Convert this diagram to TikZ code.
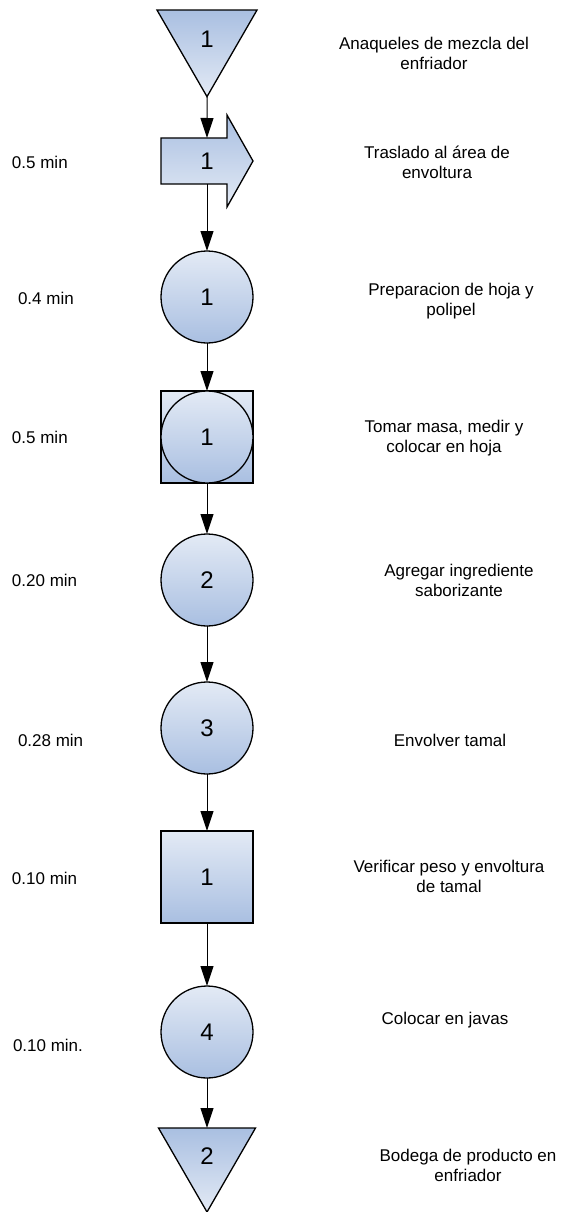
\documentclass[tikz,border=0pt]{standalone}
\usepackage{fontspec}
\setmainfont{Liberation Sans}
\usetikzlibrary{shapes.geometric,arrows.meta,backgrounds}
\definecolor{shadelight}{HTML}{E3EAF5}
\definecolor{shadedark}{HTML}{A9BFE1}

\begin{document}
\begin{tikzpicture}[x=1pt,y=-1pt,
  every node/.style={font=\fontsize{17}{20}\selectfont, inner sep=0pt, outer sep=0pt},
  num/.style={font=\fontsize{24}{28}\selectfont},
  shapeline/.style={draw=black, line width=1.3pt},
  lightup/.style={top color=shadelight, bottom color=shadedark},
  darkup/.style={top color=shadedark, bottom color=shadelight},
  storage/.style={shapeline, darkup, regular polygon, regular polygon sides=3,
    shape border rotate=180, num},
  operation/.style={shapeline, lightup, circle, minimum size=92pt, num},
  inspection/.style={shapeline, lightup, rectangle, minimum size=92pt, num},
  transport/.style={minimum width=92pt, minimum height=46pt, num},
  flow/.style={line width=1pt, -{Triangle[width=13pt,length=20pt]}},
  desc/.style={align=center},
  timelabel/.style={anchor=west},
]
\useasboundingbox (0,0) rectangle (560,1212);

% process symbols
\node[storage, minimum size=115.5pt] (s1) at (207,38.9) {1};
\node[transport] (t1) at (207,161) {1};
\begin{scope}[on background layer]
  \draw[shapeline, darkup]
    (t1.north west) -- ([xshift=-26pt]t1.north east)
    -- ([xshift=-26pt,yshift=23pt]t1.north east)
    -- (t1.east)
    -- ([xshift=-26pt,yshift=-23pt]t1.south east)
    -- ([xshift=-26pt]t1.south east)
    -- (t1.south west) -- cycle;
\end{scope}
\node[operation] (o1) at (207,297) {1};
\node[inspection] (q1) at (207,437) {};
\node[operation] (o1b) at (207,437) {1};
\node[operation] (o2) at (207,580) {2};
\node[operation] (o3) at (207,728) {3};
\node[inspection] (q2) at (207,877) {1};
\node[operation] (o4) at (207,1032) {4};
\node[storage, minimum size=112pt] (s2) at (207,1156) {2};

% flow lines
\draw[flow] (s1.south) -- (t1.north);
\draw[flow] (t1.south) -- (o1.north);
\draw[flow] (o1.south) -- (q1.north);
\draw[flow] (q1.south) -- (o2.north);
\draw[flow] (o2.south) -- (o3.north);
\draw[flow] (o3.south) -- (q2.north);
\draw[flow] (q2.south) -- (o4.north);
\draw[flow] (o4.south) -- (s2.north);

% times
\node[timelabel] (m1) at (12,162) {0.5 min};
\node[timelabel] (m2) at (18,298) {0.4 min};
\node[timelabel] (m3) at (12,437) {0.5 min};
\node[timelabel] (m4) at (12,580) {0.20 min};
\node[timelabel] (m5) at (18,740) {0.28 min};
\node[timelabel] (m6) at (12,878) {0.10 min};
\node[timelabel] (m7) at (13,1045) {0.10 min.};

% descriptions
\node[desc] (d1) at (434,53) {Anaqueles de mezcla del\\enfriador};
\node[desc] (d2) at (437,162) {Traslado al área de\\envoltura};
\node[desc] (d3) at (451,301) {Preparacion de hoja y\\polipel};
\node[desc] (d4) at (444,438) {Tomar masa, medir y\\colocar en hoja};
\node[desc] (d5) at (459,580) {Agregar ingrediente\\saborizante};
\node[desc] (d6) at (450,740) {Envolver tamal};
\node[desc] (d7) at (449,876) {Verificar peso y envoltura\\de tamal};
\node[desc] (d8) at (445,1020) {Colocar en javas};
\node[desc] (d9) at (468,1165) {Bodega de producto en\\enfriador};
\end{tikzpicture}
\end{document}
